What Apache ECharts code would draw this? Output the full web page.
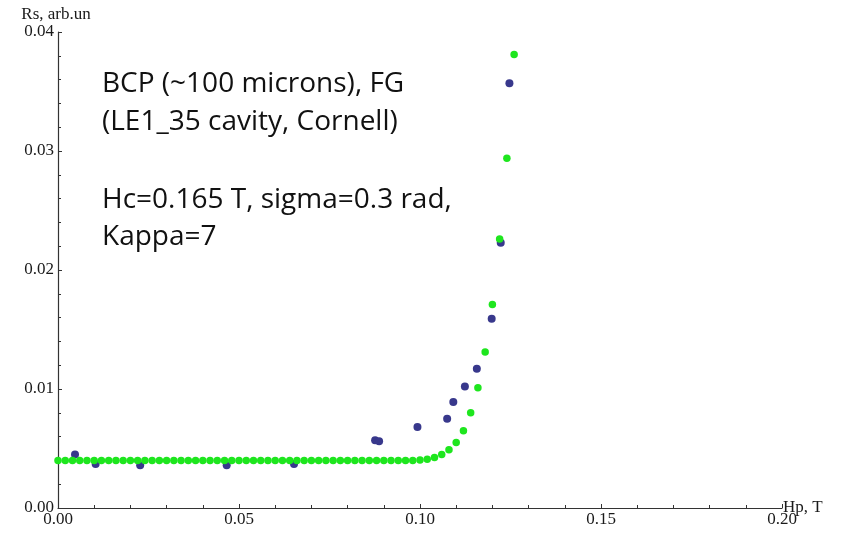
<!DOCTYPE html>
<html>
<head>
<meta charset="utf-8">
<script src="https://cdn.jsdelivr.net/npm/echarts@6/dist/echarts.min.js"></script>
<style>html,body{margin:0;padding:0;background:#fff}#c{width:842px;height:533px}</style>
</head>
<body>
<div id="c"></div>
<script>
// Model curve (green) points
const greenX = [0.000,0.002,0.004,0.006,0.008,0.010,0.012,0.014,0.016,0.018,
  0.020,0.022,0.024,0.026,0.028,0.030,0.032,0.034,0.036,0.038,
  0.040,0.042,0.044,0.046,0.048,0.050,0.052,0.054,0.056,0.058,
  0.060,0.062,0.064,0.066,0.068,0.070,0.072,0.074,0.076,0.078,
  0.080,0.082,0.084,0.086,0.088,0.090,0.092,0.094,0.096,0.098,
  0.100,0.102,0.104,0.106,0.108,0.110,0.112,0.114,0.116,0.118,
  0.120,0.122,0.124,0.126];
const greenY = [0.004,0.004,0.004,0.004,0.004,0.004,0.004,0.004,0.004,0.004,
  0.004,0.004,0.004,0.004,0.004,0.004,0.004,0.004,0.004,0.004,
  0.004,0.004,0.004,0.004,0.004,0.004,0.004,0.004,0.004,0.004,
  0.004,0.004,0.004,0.004,0.004,0.004,0.004,0.004,0.004,0.004,
  0.004,0.004,0.004,0.004,0.004,0.004,0.004,0.004,0.004,0.004,
  0.00403,0.0041,0.00425,0.0045,0.0049,0.0055,0.0065,0.0080,0.0101,0.0131,
  0.0171,0.0226,0.0294,0.0381];
// Measured data (blue)
const blueX = [0.0047,0.0104,0.0227,0.0466,0.0652,0.0876,0.0887,0.0993,0.1075,0.1092,0.1124,0.1157,0.1198,0.1223,0.1247];
const blueY = [0.0045,0.0037,0.0036,0.0036,0.0037,0.0057,0.0056,0.0068,0.0075,0.0089,0.0102,0.0117,0.0159,0.0223,0.0357];
const xTicks = [0.00,0.05,0.10,0.15,0.20];
const yTicks = [0.00,0.01,0.02,0.03,0.04];
const annotLines = ["BCP (~100 microns), FG","(LE1_35 cavity, Cornell)","Hc=0.165 T, sigma=0.3 rad,","Kappa=7"];

const chart = echarts.init(document.getElementById('c'), null, {renderer:'canvas'});
const axisFont = {fontFamily:'Liberation Serif', fontSize:17, color:'#1a1a1a'};
const annotFont = '28px "Open Sans"';
chart.setOption({
  animation:false,
  grid:{left:58, right:60, top:32, bottom:25, containLabel:false},
  xAxis:{
    type:'value', min:xTicks[0], max:xTicks[xTicks.length-1], interval:0.05,
    name:'Hp, T', nameLocation:'end', nameGap:1, nameMoveOverlap:false,
    nameTextStyle:{fontFamily:'Liberation Serif', fontSize:17, color:'#1a1a1a', verticalAlign:'middle', padding:[0,0,6,0]},
    axisLine:{show:true, onZero:false, lineStyle:{color:'#333', width:1.2}},
    axisTick:{show:true, inside:true, length:4, lineStyle:{color:'#333'}},
    minorTick:{show:true, splitNumber:5, length:3, lineStyle:{color:'#333'}},
    splitLine:{show:false},
    axisLabel:{...axisFont, margin:3, formatter:v=>v.toFixed(2), showMinLabel:true, showMaxLabel:true}
  },
  yAxis:{
    type:'value', min:yTicks[0], max:yTicks[yTicks.length-1], interval:0.01,
    name:'Rs, arb.un', nameLocation:'end', nameGap:9, nameMoveOverlap:false,
    nameTextStyle:{fontFamily:'Liberation Serif', fontSize:17, color:'#1a1a1a', align:'center', padding:[0,4,0,0]},
    axisLine:{show:true, onZero:false, lineStyle:{color:'#333', width:1.2}},
    axisTick:{show:true, inside:true, length:4, lineStyle:{color:'#333'}},
    minorTick:{show:true, splitNumber:5, length:3, lineStyle:{color:'#333'}},
    splitLine:{show:false},
    axisLabel:{...axisFont, margin:4, formatter:v=>v.toFixed(2)}
  },
  series:[
    {type:'scatter', symbol:'circle', symbolSize:8, itemStyle:{color:'#38388c', opacity:1},
     data:blueX.map((x,i)=>[x,blueY[i]]), z:2},
    {type:'scatter', symbol:'circle', symbolSize:7.5, itemStyle:{color:'#1ee61e', opacity:1},
     data:greenX.map((x,i)=>[x,greenY[i]]), z:3}
  ],
  graphic:[
    {type:'text', left:102, top:70, style:{text:annotLines[0], font:annotFont, fill:'#111'}},
    {type:'text', left:102, top:108, style:{text:annotLines[1], font:annotFont, fill:'#111'}},
    {type:'text', left:102, top:186, style:{text:annotLines[2], font:annotFont, fill:'#111'}},
    {type:'text', left:102, top:223, style:{text:annotLines[3], font:annotFont, fill:'#111'}}
  ]
});
</script>
</body>
</html>
